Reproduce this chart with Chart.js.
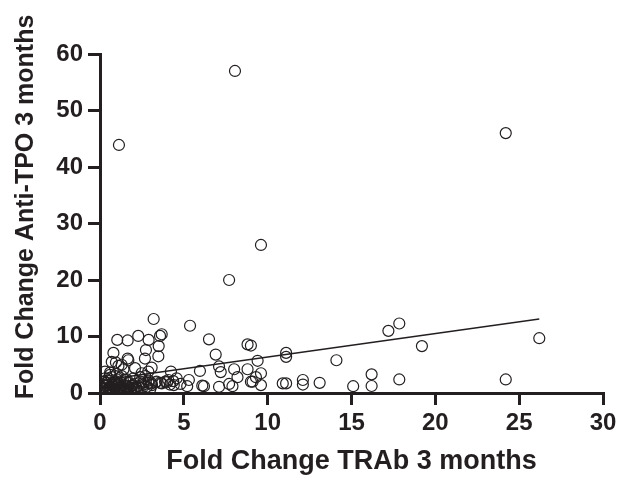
<!DOCTYPE html>
<html>
<head>
<meta charset="utf-8">
<script src="https://cdn.jsdelivr.net/npm/chart.js@4"></script>
<style>
  html, body { margin: 0; padding: 0; background: #fff; }
  #wrap { width: 632px; height: 479px; }
</style>
</head>
<body>
<div id="wrap"><canvas id="myChart"></canvas></div>
<script>
// fold change TRAb (x) vs fold change anti-TPO (y), 3 months
var trab = [
  8.05, 1.13, 24.2, 9.6, 7.7, 17.85, 17.2, 19.2, 26.2, 24.2, 17.85, 16.2, 16.2,
  5.37, 6.5, 8.8, 9.0, 6.9, 11.1, 11.1, 9.4, 14.1, 7.1, 5.96, 7.2, 8.0, 8.8, 9.6,
  8.2, 9.3, 9.0, 9.1, 5.3, 5.2, 6.2, 7.1, 7.7, 7.9, 9.6, 10.9, 11.1, 12.1, 12.1,
  13.1, 15.1,
  3.2, 1.03, 1.65, 2.28, 2.9, 3.58, 3.68, 3.5, 2.74, 0.8, 1.65, 3.48, 0.95, 1.1,
  1.4, 3.08, 0.3, 2.48, 2.4,
  4.23, 4.07, 4.37, 3.88, 3.68, 4.17, 4.57, 6.1, 3.08, 3.38,
  0.7, 1.29, 1.69, 2.09, 2.68, 2.88, 0.3, 0.6,
  0.1, 0.2, 0.3, 0.3, 0.4, 0.5, 0.5, 0.6, 0.6, 0.7, 0.7, 0.8, 0.8, 0.9, 0.9,
  1.0, 1.0, 1.0, 1.1, 1.1, 1.2, 1.2, 1.3, 1.3, 1.4, 1.4, 1.5, 1.5, 1.6, 1.7,
  1.8, 1.9, 2.0, 2.0, 2.1, 2.2, 2.3, 2.4, 2.5, 2.6, 2.7, 2.8, 2.9, 3.0, 3.1,
  0.2, 0.4, 1.0, 0.6,
  0.15, 0.35, 0.45, 0.55, 0.65, 0.75, 0.85, 0.95, 1.05, 1.15, 1.25, 1.35, 1.45,
  1.55, 1.65, 1.75, 1.85, 1.95, 2.05, 2.15, 2.25, 0.25, 0.5, 0.9, 1.2, 1.6,
  2.6, 2.9, 3.3, 3.6, 4.0, 4.4, 4.8
];
var tpo = [
  57, 43.9, 46, 26.2, 20, 12.3, 11, 8.3, 9.7, 2.4, 2.4, 3.3, 1.24,
  11.9, 9.5, 8.6, 8.4, 6.8, 7.1, 6.4, 5.7, 5.8, 4.7, 3.9, 3.7, 4.2, 4.2, 3.5,
  2.8, 2.8, 2.0, 2.0, 2.3, 1.2, 1.2, 1.1, 1.6, 1.2, 1.4, 1.7, 1.7, 2.3, 1.5,
  1.8, 1.2,
  13.1, 9.4, 9.3, 10.1, 9.4, 10.1, 10.4, 8.3, 7.6, 7.1, 6.1, 6.5, 5.4, 4.8,
  4.2, 4.5, 2.6, 3.5, 2.8,
  3.8, 2.3, 2.1, 2.0, 1.7, 1.5, 2.6, 1.3, 1.7, 2.0,
  5.5, 5.0, 5.8, 4.4, 6.1, 3.8, 3.8, 3.2,
  0.5, 0.8, 1.2, 0.3, 1.8, 0.6, 2.2, 1.0, 0.2, 1.5, 2.8, 0.4, 1.1, 0.7, 1.9,
  0.3, 1.3, 2.4, 0.9, 1.6, 0.5, 2.0, 1.1, 3.0, 0.7, 1.5, 0.4, 2.3, 1.0, 1.8,
  0.6, 1.3, 0.9, 2.6, 1.6, 0.5, 1.2, 2.0, 0.8, 1.5, 3.0, 1.1, 2.2, 0.7, 1.4,
  1.5, 0.2, 3.4, 3.6,
  0.9, 0.4, 1.4, 0.2, 0.8, 0.5, 1.2, 0.3, 0.6, 1.0, 0.2, 0.8, 0.5,
  1.2, 0.3, 0.9, 0.4, 1.4, 0.6, 1.0, 0.3, 2.0, 2.6, 1.7, 2.7, 2.4,
  1.9, 1.8, 1.9, 1.8, 1.9, 1.4, 1.6
];
// linear fit line end points
var fitX = [0.1, 26.2];
var fitY = [2.25, 13.1];

var xTicks = [0, 5, 10, 15, 20, 25, 30];
var yTicks = [0, 10, 20, 30, 40, 50, 60];
var yTitle = 'Fold Change Anti-TPO 3 months';

var ink = '#231f20';
var pts = trab.map(function (v, i) { return { x: v, y: tpo[i] }; });
var fit = fitX.map(function (v, i) { return { x: v, y: fitY[i] }; });

// y title drawn by hand so it sits where the reference has it
var yTitlePlugin = {
  id: 'yTitle',
  afterDraw: function (chart) {
    var c = chart.ctx;
    c.save();
    c.translate(26, 207);
    c.rotate(-Math.PI / 2);
    c.fillStyle = ink;
    c.font = 'bold 25px "Liberation Sans", Arial';
    c.textAlign = 'center';
    c.textBaseline = 'middle';
    c.fillText(yTitle, 0, 0);
    c.restore();
  }
};

new Chart(document.getElementById('myChart'), {
  type: 'scatter',
  data: {
    datasets: [
      {
        data: pts,
        pointRadius: 5.5,
        pointHoverRadius: 5.5,
        borderWidth: 1.2,
        borderColor: ink,
        backgroundColor: 'rgba(0,0,0,0)'
      },
      {
        type: 'line',
        data: fit,
        borderColor: ink,
        borderWidth: 1.5,
        pointRadius: 0,
        fill: false
      }
    ]
  },
  plugins: [yTitlePlugin],
  options: {
    responsive: true,
    maintainAspectRatio: false,
    animation: false,
    layout: { padding: { top: 54, right: 29, bottom: 0, left: 0 } },
    plugins: { legend: { display: false }, tooltip: { enabled: false } },
    scales: {
      x: {
        type: 'linear',
        min: 0, max: 30,
        afterBuildTicks: function (s) { s.ticks = xTicks.map(function (v) { return { value: v }; }); },
        afterFit: function (s) { s.height = 86; },
        border: { color: ink, width: 3 },
        grid: { drawOnChartArea: false, drawTicks: true, tickLength: 12, color: ink, lineWidth: 3 },
        ticks: { color: ink, padding: 4, maxRotation: 0, font: { family: 'Liberation Sans, Arial', size: 24, weight: 'bold' } },
        title: {
          display: true,
          text: 'Fold Change TRAb 3 months',
          color: ink,
          padding: { top: 0, bottom: 1 },
          font: { family: 'Liberation Sans, Arial', size: 27, weight: 'bold' }
        }
      },
      y: {
        type: 'linear',
        min: 0, max: 60,
        afterBuildTicks: function (s) { s.ticks = yTicks.map(function (v) { return { value: v }; }); },
        afterFit: function (s) { s.width = 100; },
        border: { color: ink, width: 3 },
        grid: { drawOnChartArea: false, drawTicks: true, tickLength: 12, color: ink, lineWidth: 3 },
        ticks: { color: ink, padding: 5, font: { family: 'Liberation Sans, Arial', size: 24, weight: 'bold' } }
      }
    }
  }
});
</script>
</body>
</html>
